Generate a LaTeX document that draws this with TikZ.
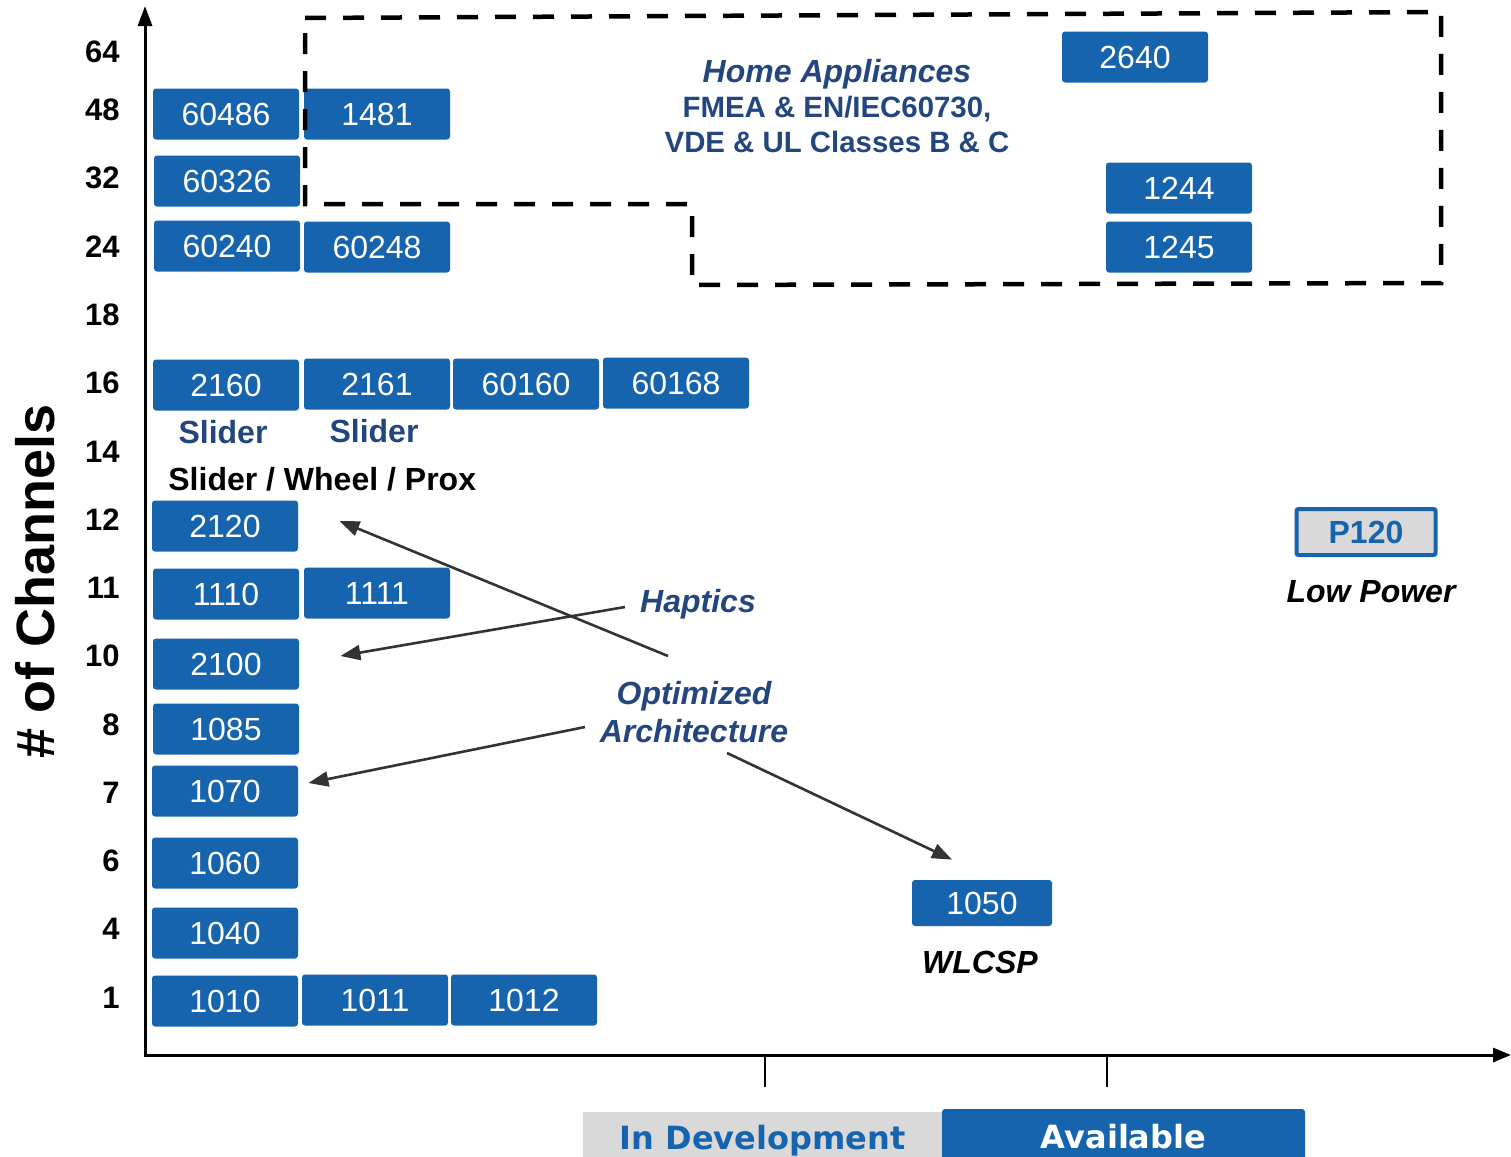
\documentclass[tikz,border=0pt]{standalone}
\usepackage{fontspec}
\setmainfont{Liberation Sans}
\newfontfamily\legendfont{DejaVu Sans}
\usepackage{tikz}
\usetikzlibrary{positioning,calc,arrows.meta}
\definecolor{chipblue}{HTML}{1764AE}
\definecolor{labelnavy}{HTML}{23467F}
\definecolor{devgray}{HTML}{D9D9D9}
\definecolor{pointergray}{HTML}{333333}

\begin{document}
\begin{tikzpicture}[x=0.5pt,y=-0.5pt,
    chip/.style={fill=chipblue,text=white,rounded corners=1.5pt,minimum width=73pt,minimum height=25.5pt,inner sep=0pt,font=\fontsize{16}{18}\selectfont},
    chanlabel/.style={anchor=east,inner sep=0pt,font=\fontsize{15.5}{17}\selectfont\bfseries},
    note/.style={inner sep=0pt,align=center,text=labelnavy,font=\fontsize{16}{19}\selectfont\bfseries\itshape},
    pointer/.style={draw=pointergray,line width=1.3pt,-{Triangle[length=10pt,width=7.5pt]}}]
      \useasboundingbox (0,0) rectangle (1511,1157);

      % axes
      \draw[line width=1.5pt,-{Triangle[length=10pt,width=7pt]}] (145,1056) -- (145,6);
      \draw[line width=1.5pt,-{Triangle[length=9pt,width=7pt]}] (144,1055) -- (1511,1055);
      \draw[line width=1.2pt] (765,1055) -- (765,1087);
      \draw[line width=1.2pt] (1107,1055) -- (1107,1087);

      \node[rotate=90,inner sep=0pt,font=\fontsize{27}{30}\selectfont\bfseries](axistitle) at (35,581){\# of Channels};

      \node[chanlabel](ch64) at (120,52){64};
      \node[chanlabel](ch48) at (120,110){48};
      \node[chanlabel](ch32) at (120,178){32};
      \node[chanlabel](ch24) at (120,247){24};
      \node[chanlabel](ch18) at (120,315){18};
      \node[chanlabel](ch16) at (120,383){16};
      \node[chanlabel](ch14) at (120,452){14};
      \node[chanlabel](ch12) at (120,520){12};
      \node[chanlabel](ch11) at (120,588){11};
      \node[chanlabel](ch10) at (120,656){10};
      \node[chanlabel](ch8) at (120,725){8};
      \node[chanlabel](ch7) at (120,793){7};
      \node[chanlabel](ch6) at (120,861){6};
      \node[chanlabel](ch4) at (120,929){4};
      \node[chanlabel](ch1) at (120,998){1};

      % devices
      \node[chip](c60486) at (226,114){60486};
      \node[chip](c1481) at (377,114){1481};
      \node[chip](c60326) at (227,181){60326};
      \node[chip](c60240) at (227,246){60240};
      \node[chip](c60248) at (377,247){60248};
      \node[chip](c2640) at (1135,57){2640};
      \node[chip](c1244) at (1179,188){1244};
      \node[chip](c1245) at (1179,247){1245};
      \node[chip](c2160) at (226,385){2160};
      \node[chip](c2161) at (377,384){2161};
      \node[chip](c60160) at (526,384){60160};
      \node[chip](c60168) at (676,383){60168};
      \node[chip](c2120) at (225,526){2120};
      \node[chip](c1110) at (226,594){1110};
      \node[chip](c1111) at (377,593){1111};
      \node[chip](c2100) at (226,664){2100};
      \node[chip](c1085) at (226,729){1085};
      \node[chip](c1070) at (225,791){1070};
      \node[chip](c1060) at (225,863){1060};
      \node[chip](c1040) at (225,933){1040};
      \node[chip](c1010) at (225,1001){1010};
      \node[chip](c1011) at (375,1000){1011};
      \node[chip](c1012) at (524,1000){1012};
      \node[chip,minimum width=70pt,minimum height=23pt](c1050) at (982,903){1050};
      \node[draw=chipblue,line width=2pt,fill=devgray,text=chipblue,rounded corners=1pt,minimum width=69.5pt,minimum height=23pt,inner sep=0pt,font=\fontsize{16}{18}\selectfont\bfseries](p120) at (1366,532){P120};

      % home appliances region
      \draw[line width=2.25pt,dash pattern=on 10.5pt off 8.5pt] (305,18) -- (1441,12) -- (1441,283) -- (692,285) -- (692,204) -- (305,204) -- cycle;
      \node[inner sep=0pt,align=center,text=labelnavy,font=\fontsize{14.7}{17.7}\selectfont\bfseries](homeapp) at (837,106){{\fontsize{16}{18}\selectfont\itshape Home Appliances}\\FMEA \& EN/IEC60730,\\VDE \& UL Classes B \& C};

      % labels
      \node[inner sep=0pt,text=labelnavy,font=\fontsize{16}{18}\selectfont\bfseries](slider1) at (223,432){Slider};
      \node[inner sep=0pt,text=labelnavy,font=\fontsize{16}{18}\selectfont\bfseries](slider2) at (374,431){Slider};
      \node[anchor=west,inner sep=0pt,font=\fontsize{16}{18}\selectfont\bfseries](swp) at (168,479){Slider / Wheel / Prox};
      \node[note](haptics) at (698,604){Haptics};
      \node[note](optarch) at (694,712){Optimized\\Architecture};
      \node[note,text=black](lowpower) at (1371,592){Low Power};
      \node[note,text=black](wlcsp) at (980,962){WLCSP};

      % pointers
      \draw[pointer] ($(optarch.center)+(-26,-56)$) -- ($(c2120.east)+(41,-5)$);
      \draw[pointer] ($(haptics.center)+(-73,3)$) -- ($(c2100.east)+(41,-8)$);
      \draw[pointer] ($(optarch.center)+(-109,15)$) -- ($(c1070.east)+(10,-8)$);
      \draw[pointer] ($(optarch.center)+(33,41)$) -- ($(c1050.north)+(-30,-20)$);

      % legend
      \node[fill=devgray,minimum width=179.5pt,minimum height=25pt,inner sep=0pt,text depth=0pt,text=chipblue,font=\legendfont\fontsize{16}{18}\selectfont\bfseries](indev) at (762.5,1137){In Development};
      \node[fill=chipblue,rounded corners=1.5pt,minimum width=181.5pt,minimum height=28pt,inner sep=0pt,text=white,font=\legendfont\fontsize{16}{18}\selectfont\bfseries](avail) at (1123.5,1137){Available};
    \end{tikzpicture}
\end{document}
